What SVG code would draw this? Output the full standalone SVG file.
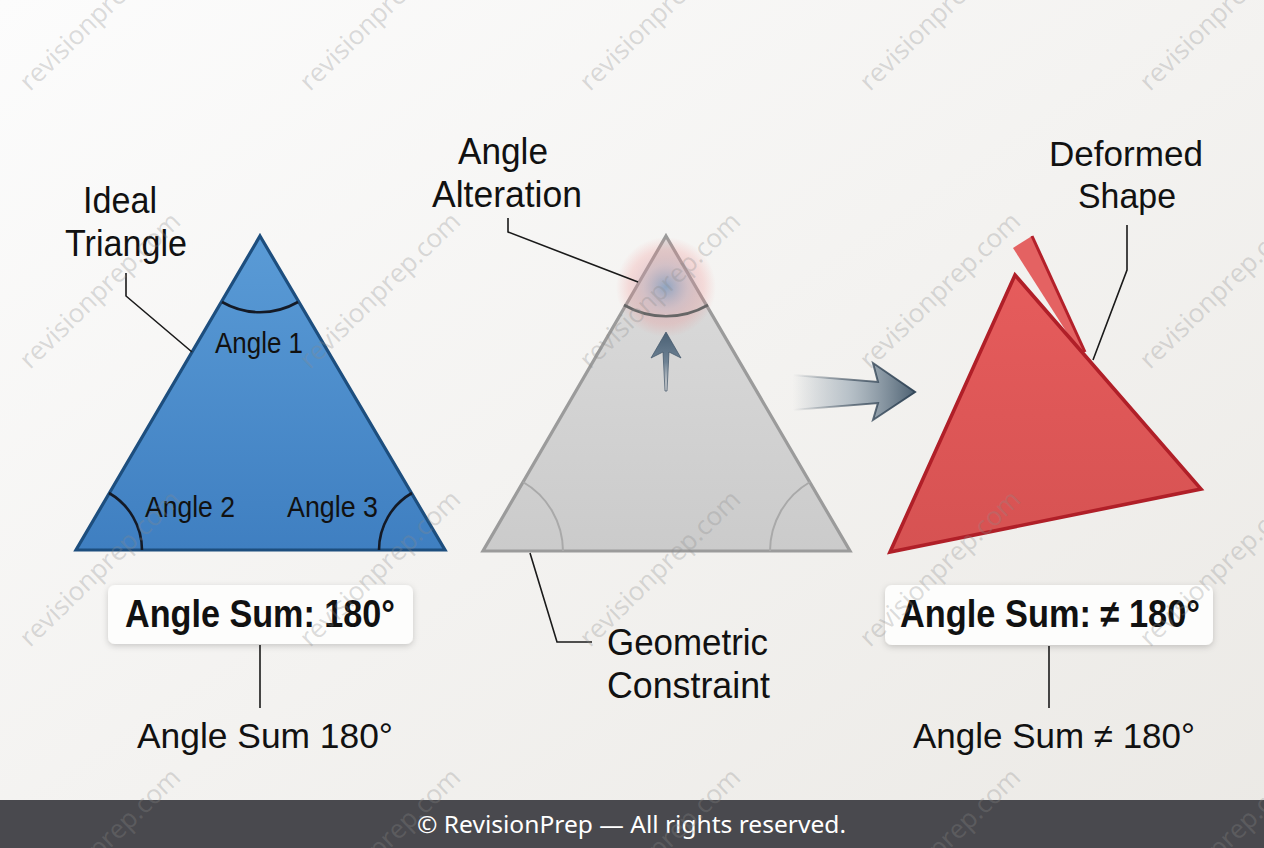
<svg xmlns="http://www.w3.org/2000/svg" width="1264" height="848" viewBox="0 0 1264 848">
<style>
.lbl{font-family:"Liberation Sans",Arial,sans-serif;fill:#111;}
.bold{font-weight:bold;}
.lead{fill:none;stroke:#1a1a1a;stroke-width:1.6;}
.arcB{fill:none;stroke:#141a26;stroke-width:2.6;}
.arcG{fill:none;stroke:#a9a9a9;stroke-width:2;}
.wm{font-family:"Open Sans","Noto Sans",sans-serif;font-size:26px;fill:#8a8a8a;fill-opacity:0.3;}
</style>
<defs>
<linearGradient id="bg" x1="0" y1="0" x2="1" y2="1">
<stop offset="0" stop-color="#fcfcfc"/>
<stop offset="1" stop-color="#ebe9e5"/>
</linearGradient>
<linearGradient id="blueFill" x1="0" y1="0" x2="0" y2="1">
<stop offset="0" stop-color="#5a9bd6"/>
<stop offset="1" stop-color="#3f7fc1"/>
</linearGradient>
<linearGradient id="greyFill" x1="0" y1="0" x2="0" y2="1">
<stop offset="0" stop-color="#dcdcdc"/>
<stop offset="1" stop-color="#cbcbcb"/>
</linearGradient>
<linearGradient id="redFill" x1="0" y1="0" x2="0" y2="1">
<stop offset="0" stop-color="#e65c5c"/>
<stop offset="1" stop-color="#d65252"/>
</linearGradient>
<radialGradient id="glow" cx="666" cy="287" r="50" gradientUnits="userSpaceOnUse">
<stop offset="0" stop-color="#6f8fb8" stop-opacity="0.7"/>
<stop offset="0.45" stop-color="#c99aa8" stop-opacity="0.4"/>
<stop offset="0.75" stop-color="#f08080" stop-opacity="0.22"/>
<stop offset="1" stop-color="#f08080" stop-opacity="0"/>
</radialGradient>
<linearGradient id="bigArrow" x1="793" y1="0" x2="915" y2="0" gradientUnits="userSpaceOnUse">
<stop offset="0" stop-color="#8a9aa8" stop-opacity="0"/>
<stop offset="0.45" stop-color="#93a3b0" stop-opacity="0.6"/>
<stop offset="1" stop-color="#4d6172"/>
</linearGradient>
<linearGradient id="bigArrowStroke" x1="793" y1="0" x2="915" y2="0" gradientUnits="userSpaceOnUse">
<stop offset="0" stop-color="#3b4c5c" stop-opacity="0"/>
<stop offset="0.5" stop-color="#3b4c5c" stop-opacity="0.7"/>
<stop offset="1" stop-color="#34485a"/>
</linearGradient>
<linearGradient id="upArrow" x1="0" y1="332" x2="0" y2="392" gradientUnits="userSpaceOnUse">
<stop offset="0" stop-color="#4a6074"/>
<stop offset="0.5" stop-color="#6e8294"/>
<stop offset="1" stop-color="#a0aab4" stop-opacity="0.1"/>
</linearGradient>
<filter id="shadow" x="-10%" y="-30%" width="120%" height="170%">
<feDropShadow dx="0" dy="2" stdDeviation="3" flood-color="#000" flood-opacity="0.18"/>
</filter>
</defs>

<rect x="0" y="0" width="1264" height="848" fill="url(#bg)"/>

<g id="node-ideal-triangle">
<polygon points="260,236 445,550 76,550" fill="url(#blueFill)" stroke="#1d4e7e" stroke-width="3.2" stroke-linejoin="miter"/>
<path class="arcB" d="M222,302 A76,76 0 0 0 298,302"/>
<path class="arcB" d="M109,493 A66,66 0 0 1 142,550"/>
<path class="arcB" d="M412,493 A66,66 0 0 0 379,550"/>
<text class="lbl" x="215" y="353" font-size="29" textLength="88" lengthAdjust="spacingAndGlyphs">Angle 1</text>
<text class="lbl" x="145" y="517" font-size="29" textLength="90" lengthAdjust="spacingAndGlyphs">Angle 2</text>
<text class="lbl" x="287" y="517" font-size="29" textLength="91" lengthAdjust="spacingAndGlyphs">Angle 3</text>
<text class="lbl" x="83" y="213" font-size="36" textLength="74" lengthAdjust="spacingAndGlyphs">Ideal</text>
<text class="lbl" x="65" y="256" font-size="36" textLength="122" lengthAdjust="spacingAndGlyphs">Triangle</text>
</g>

<g id="node-altered-triangle">
<polygon points="666,236 850,551 483,551" fill="url(#greyFill)" stroke="#9b9b9b" stroke-width="3.2"/>
<circle cx="666" cy="287" r="50" fill="url(#glow)"/>
<path d="M624,305 A84,84 0 0 0 708,305" fill="none" stroke="#666" stroke-width="2.6"/>
<path class="arcG" d="M523,482 A80,80 0 0 1 563,551"/>
<path class="arcG" d="M810,482 A80,80 0 0 0 770,551"/>
<polygon points="666,332 681,358 669,352 667,391 665,391 663,352 651,358" fill="url(#upArrow)" stroke="#3e5366" stroke-width="1" stroke-opacity="0.7"/>
<text class="lbl" x="458" y="164" font-size="36" textLength="90" lengthAdjust="spacingAndGlyphs">Angle</text>
<text class="lbl" x="432" y="207" font-size="36" textLength="150" lengthAdjust="spacingAndGlyphs">Alteration</text>
<text class="lbl" x="607" y="655" font-size="36" textLength="161" lengthAdjust="spacingAndGlyphs">Geometric</text>
<text class="lbl" x="607" y="698" font-size="36" textLength="163" lengthAdjust="spacingAndGlyphs">Constraint</text>
</g>

<g id="node-deformed-shape">
<polygon points="1013,248 1032,236 1085,352 1078,350" fill="#e46262" stroke="none"/>
<line x1="1032" y1="236" x2="1085" y2="352" stroke="#b3202a" stroke-width="3"/>
<polygon points="1015,275 1201,489 890,552" fill="url(#redFill)" stroke="#b01f28" stroke-width="3.6" stroke-linejoin="miter"/>
<text class="lbl" x="1049" y="166" font-size="35" textLength="154" lengthAdjust="spacingAndGlyphs">Deformed</text>
<text class="lbl" x="1078" y="208" font-size="35" textLength="98" lengthAdjust="spacingAndGlyphs">Shape</text>
</g>

<g id="node-sum-ideal">
<rect x="108" y="585" width="305" height="59" rx="7" fill="#fdfdfc" filter="url(#shadow)"/>
<text class="lbl bold" x="125" y="627" font-size="38" textLength="270" lengthAdjust="spacingAndGlyphs">Angle Sum: 180°</text>
<text class="lbl" x="137" y="748" font-size="35" textLength="256" lengthAdjust="spacingAndGlyphs">Angle Sum 180°</text>
</g>

<g id="node-sum-deformed">
<rect x="885" y="585" width="328" height="60" rx="7" fill="#fdfdfc" filter="url(#shadow)"/>
<text class="lbl bold" x="900" y="627" font-size="38" textLength="300" lengthAdjust="spacingAndGlyphs">Angle Sum: ≠ 180°</text>
<text class="lbl" x="913" y="748" font-size="35" textLength="282" lengthAdjust="spacingAndGlyphs">Angle Sum ≠ 180°</text>
</g>

<g id="connectors">
<polyline class="lead" points="126,273 126,296 192,352"/>
<polyline class="lead" points="508,218 508,232 638,282"/>
<polyline class="lead" points="530,553 557,642 592,642"/>
<polyline class="lead" points="1127,225 1127,270 1093,360"/>
<line class="lead" x1="260" y1="645" x2="260" y2="708"/>
<line class="lead" x1="1049" y1="646" x2="1049" y2="708"/>
<polygon points="793,375 878,382 873,363 915,392 873,420 878,403 793,410" fill="url(#bigArrow)" stroke="url(#bigArrowStroke)" stroke-width="2" stroke-linejoin="miter"/>
</g>

<g id="footer">
<rect x="0" y="800" width="1264" height="48" fill="#49494e"/>
<text x="417" y="833" font-family="Noto Sans, Open Sans, sans-serif" font-size="24" textLength="429" lengthAdjust="spacingAndGlyphs" fill="#ffffff">© RevisionPrep — All rights reserved.</text>
</g>

<g id="watermarks">
<text class="wm" transform="translate(30,92) rotate(-44)">revisionprep.com</text>
<text class="wm" transform="translate(310,92) rotate(-44)">revisionprep.com</text>
<text class="wm" transform="translate(590,92) rotate(-44)">revisionprep.com</text>
<text class="wm" transform="translate(870,92) rotate(-44)">revisionprep.com</text>
<text class="wm" transform="translate(1150,92) rotate(-44)">revisionprep.com</text>
<text class="wm" transform="translate(30,370) rotate(-44)">revisionprep.com</text>
<text class="wm" transform="translate(310,370) rotate(-44)">revisionprep.com</text>
<text class="wm" transform="translate(590,370) rotate(-44)">revisionprep.com</text>
<text class="wm" transform="translate(870,370) rotate(-44)">revisionprep.com</text>
<text class="wm" transform="translate(1150,370) rotate(-44)">revisionprep.com</text>
<text class="wm" transform="translate(30,648) rotate(-44)">revisionprep.com</text>
<text class="wm" transform="translate(310,648) rotate(-44)">revisionprep.com</text>
<text class="wm" transform="translate(590,648) rotate(-44)">revisionprep.com</text>
<text class="wm" transform="translate(870,648) rotate(-44)">revisionprep.com</text>
<text class="wm" transform="translate(1150,648) rotate(-44)">revisionprep.com</text>
<text class="wm" transform="translate(30,926) rotate(-44)">revisionprep.com</text>
<text class="wm" transform="translate(310,926) rotate(-44)">revisionprep.com</text>
<text class="wm" transform="translate(590,926) rotate(-44)">revisionprep.com</text>
<text class="wm" transform="translate(870,926) rotate(-44)">revisionprep.com</text>
<text class="wm" transform="translate(1150,926) rotate(-44)">revisionprep.com</text>
</g>
</svg>
